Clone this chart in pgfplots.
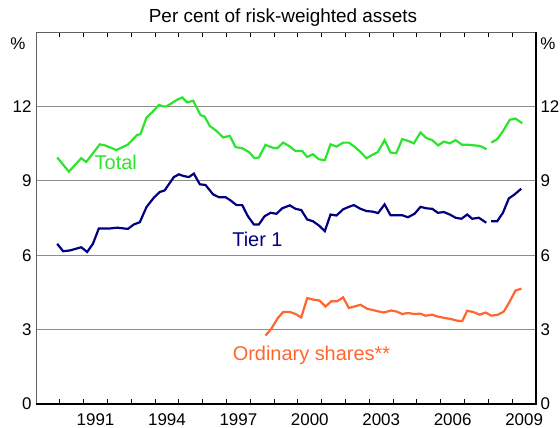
\documentclass[border=0pt]{standalone}
\usepackage{pgfplots}
\pgfplotsset{compat=1.18}
\usepackage{fontspec}
\setmainfont{Liberation Sans}
\definecolor{totgreen}{RGB}{45,228,45}
\definecolor{tiernavy}{RGB}{0,0,128}
\definecolor{ordorange}{RGB}{255,102,45}
\definecolor{gridgray}{RGB}{140,140,140}
\newcommand{\lblfont}{\fontsize{17}{20}\selectfont}
\newcommand{\serfont}{\fontsize{20}{23}\selectfont}
\newcommand{\subfont}{\fontsize{19}{22}\selectfont}
\begin{document}
\begin{tikzpicture}
\pgfplotsset{
  base/.style={
    at={(36bp,24bp)}, anchor=south west, scale only axis,
    width=500bp, height=372bp,
    xmin=1989, xmax=2010, ymin=0, ymax=15,
    axis line style={draw=none},
    /pgf/number format/assume math mode=true,
    tick label style={font=\lblfont},
    ytick={0,3,6,9,12},
    y tick style={draw=none},
  }
}
\begin{axis}[base,
  ymajorgrids, grid style={gridgray, line width=1bp},
  xtick={1990,...,2009}, xticklabels={},
  x tick style={black, line width=0.9bp}, major tick length=5bp,
  extra x ticks={1991.5,1994.5,1997.5,2000.5,2003.5,2006.5,2009.5},
  extra x tick labels={1991,1994,1997,2000,2003,2006,2009},
  extra x tick style={major tick length=0pt, grid=none, xticklabel style={yshift=-6bp}},
  yticklabel style={xshift=-1bp},
  clip=false,
]
% Total
\addplot[totgreen, line width=2.2bp] coordinates {
(1989.89,9.94)(1990.38,9.37)(1990.90,9.91)(1991.11,9.76)(1991.68,10.47)(1991.89,10.43)
(1992.38,10.24)(1992.86,10.46)(1993.25,10.85)(1993.39,10.88)(1993.64,11.55)(1993.92,11.80)
(1994.16,12.06)(1994.34,12.00)(1994.48,12.00)(1994.93,12.27)(1995.14,12.36)(1995.35,12.16)
(1995.60,12.23)(1995.91,11.65)(1996.08,11.59)(1996.30,11.21)(1996.58,11.01)(1996.86,10.75)
(1997.14,10.81)(1997.38,10.36)(1997.66,10.31)(1997.94,10.16)(1998.18,9.91)(1998.36,9.94)
(1998.64,10.45)(1998.92,10.34)(1999.13,10.31)(1999.38,10.54)(1999.62,10.41)(1999.90,10.20)
(2000.18,10.20)(2000.39,9.96)(2000.63,10.07)(2000.88,9.87)(2001.13,9.83)(2001.37,10.47)
(2001.62,10.38)(2001.90,10.54)(2002.14,10.54)(2002.42,10.34)(2002.63,10.16)(2002.88,9.91)
(2003.12,10.04)(2003.36,10.16)(2003.64,10.64)(2003.89,10.14)(2004.13,10.11)(2004.38,10.68)
(2004.63,10.61)(2004.87,10.51)(2005.15,10.95)(2005.40,10.72)(2005.64,10.64)(2005.89,10.43)
(2006.13,10.58)(2006.38,10.51)(2006.62,10.64)(2006.90,10.45)(2007.18,10.45)(2007.60,10.41)
(2007.74,10.37)(2007.92,10.27)
};
\addplot[totgreen, line width=2.2bp] coordinates {
(2008.12,10.54)(2008.37,10.68)(2008.62,11.01)(2008.90,11.46)(2009.14,11.51)(2009.42,11.32)
};
% Tier 1
\addplot[tiernavy, line width=2.2bp] coordinates {
(1989.89,6.46)(1990.14,6.16)(1990.42,6.19)(1990.90,6.32)(1991.15,6.13)(1991.39,6.46)
(1991.64,7.08)(1992.13,7.08)(1992.41,7.11)(1992.86,7.06)(1993.11,7.24)(1993.36,7.33)
(1993.64,7.94)(1993.95,8.32)(1994.20,8.55)(1994.40,8.61)(1994.79,9.15)(1995.00,9.26)
(1995.21,9.19)(1995.42,9.15)(1995.63,9.29)(1995.88,8.86)(1996.12,8.83)(1996.44,8.45)
(1996.68,8.34)(1996.96,8.34)(1997.17,8.21)(1997.42,8.02)(1997.66,8.02)(1997.90,7.57)
(1998.15,7.24)(1998.36,7.24)(1998.60,7.57)(1998.85,7.71)(1999.10,7.67)(1999.34,7.89)
(1999.66,8.01)(1999.90,7.87)(2000.14,7.82)(2000.39,7.44)(2000.63,7.37)(2000.88,7.20)
(2001.13,6.97)(2001.37,7.64)(2001.62,7.60)(2001.90,7.85)(2002.14,7.95)(2002.35,8.02)
(2002.63,7.87)(2002.88,7.78)(2003.12,7.76)(2003.37,7.70)(2003.64,8.05)(2003.89,7.61)
(2004.13,7.61)(2004.38,7.61)(2004.62,7.53)(2004.90,7.67)(2005.15,7.95)(2005.40,7.89)
(2005.64,7.87)(2005.88,7.71)(2006.13,7.74)(2006.38,7.64)(2006.62,7.51)(2006.87,7.47)
(2007.11,7.64)(2007.32,7.47)(2007.60,7.51)(2007.91,7.31)
};
\addplot[tiernavy, line width=2.2bp] coordinates {
(2008.12,7.37)(2008.37,7.37)(2008.61,7.71)(2008.86,8.29)(2009.10,8.45)(2009.38,8.68)
};
% Ordinary shares
\addplot[ordorange, line width=2.2bp] coordinates {
(1998.64,2.76)(1998.88,3.03)(1999.16,3.47)(1999.38,3.71)(1999.66,3.71)(1999.90,3.63)
(2000.14,3.49)(2000.39,4.27)(2000.64,4.21)(2000.91,4.17)(2001.16,3.93)(2001.40,4.14)
(2001.65,4.14)(2001.90,4.30)(2002.14,3.87)(2002.63,4.00)(2002.91,3.84)(2003.40,3.73)
(2003.61,3.69)(2003.92,3.77)(2004.14,3.73)(2004.38,3.63)(2004.63,3.67)(2004.87,3.63)
(2005.15,3.64)(2005.36,3.56)(2005.64,3.60)(2005.85,3.53)(2006.16,3.47)(2006.41,3.43)
(2006.69,3.36)(2006.90,3.34)(2007.11,3.76)(2007.36,3.71)(2007.64,3.60)(2007.88,3.69)
(2008.13,3.56)(2008.40,3.60)(2008.65,3.73)(2008.90,4.14)(2009.14,4.58)(2009.39,4.65)
};
\node[totgreen, font=\serfont] at (axis cs:1992.35,9.75) {Total};
\node[tiernavy, font=\serfont] at (axis cs:1998.3,6.63) {Tier 1};
\node[ordorange, font=\serfont] at (axis cs:2000.57,1.98) {Ordinary shares**};
% frame
\draw[gray!75!black, line width=0.9bp] (rel axis cs:0,0) -- (rel axis cs:0,1) -- (rel axis cs:1,1);
\draw[black, line width=1.6bp] (rel axis cs:0,0) -- (rel axis cs:1,0) -- (rel axis cs:1,1);
\node[font=\lblfont] at (rel axis cs:0,1) [xshift=-18bp, yshift=-12bp] {\%};
\node[font=\lblfont] at (rel axis cs:1,1) [xshift=12bp, yshift=-12bp] {\%};
\node[font=\subfont] at (rel axis cs:0.5,1) [xshift=-3bp, yshift=14bp] {Per cent of risk-weighted assets};
\end{axis}
\begin{axis}[base, xtick=\empty, yticklabel pos=right, yticklabel style={xshift=1bp}]
\end{axis}
\pgfresetboundingbox
\useasboundingbox (0,0) rectangle (560bp,428bp);
\end{tikzpicture}
\end{document}
